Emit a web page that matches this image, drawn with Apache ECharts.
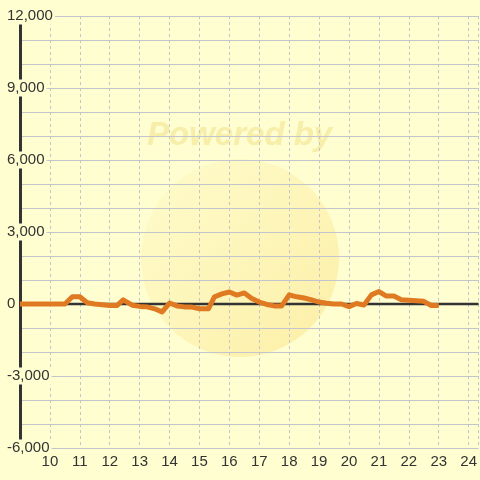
<!DOCTYPE html>
<html>
<head>
<meta charset="utf-8">
<script src="https://cdn.jsdelivr.net/npm/echarts@6/dist/echarts.min.js"></script>
<style>
html,body{margin:0;padding:0;background:#fefed0;}
#c{width:480px;height:480px;}
</style>
</head>
<body>
<div id="c"></div>
<script>
var hours = [9.0,10.5,10.75,11.0,11.25,11.5,12.0,12.25,12.45,12.75,13.0,13.25,13.5,13.75,14.0,14.25,14.5,14.75,15.0,15.3,15.5,15.75,16.0,16.25,16.5,16.75,17.0,17.25,17.5,17.75,18.0,18.25,18.5,18.75,19.0,19.25,19.5,19.75,20.0,20.25,20.5,20.75,21.0,21.25,21.5,21.75,22.0,22.25,22.5,22.75,23.0];
var values = [0,0,300,300,50,0,-60,-60,170,-50,-100,-120,-200,-330,40,-80,-120,-130,-200,-200,300,420,500,370,460,230,80,-20,-80,-80,380,300,250,170,80,30,0,0,-110,20,-40,380,520,330,330,180,160,140,110,-60,-60];
var zeroLine = [[9,0],[24.3333,0]];
var yTicks = [-6000,-3000,0,3000,6000,9000,12000];

var bg = '#fefed0';
var chart = echarts.init(document.getElementById('c'), null, {renderer:'canvas'});
var pts = hours.map(function(h,i){return [h, values[i]];});
chart.setOption({
  backgroundColor: bg,
  animation: false,
  textStyle: {fontFamily: 'Liberation Sans, Arial, sans-serif'},
  graphic: [
    {type:'circle', z:-10, shape:{cx:240, cy:258, r:99},
     style:{fill:{type:'linear',x:0,y:0,x2:1,y2:1,colorStops:[{offset:0,color:'rgba(255,250,200,0.5)'},{offset:1,color:'rgba(250,225,130,0.55)'}]}}},
    {type:'text', z:-9, left:147, top:119,
     style:{text:'Powered by', fill:'rgba(240,222,130,0.5)', font:'italic bold 33px Liberation Sans, Arial, sans-serif'}}
  ],
  grid: {left:20, right:0, top:16, bottom:32, containLabel:false},
  xAxis: {
    type:'value', min:9, max:24.3333, interval:1,
    axisLine:{show:false}, axisTick:{show:false},
    axisLabel:{color:'#333', fontSize:15, margin:6, showMaxLabel:false,
      formatter:function(v){return (v===9)?'':String(v);}},
    splitLine:{show:true, lineStyle:{color:'#c4c4cc', width:1, type:[3,3]}}
  },
  yAxis: {
    type:'value', min:-6000, max:12000, interval:1000,
    axisLine:{show:true, lineStyle:{color:'#333', width:3}},
    axisTick:{show:false},
    axisLabel:{color:'#333', fontSize:15, align:'left', margin:13,
      backgroundColor:bg, padding:[2,2,0,0],
      formatter:function(v){
        if (yTicks.indexOf(v) < 0) return '';
        return v.toLocaleString('en-US');
      }},
    splitLine:{show:true, lineStyle:{color:'#c4c4cc', width:1}}
  },
  series: [
    {type:'line', data:zeroLine, symbol:'none', silent:true,
     lineStyle:{color:'#333', width:2.5}, z:2},
    {type:'line', data:pts, symbol:'none', silent:true,
     lineStyle:{color:'#e07a22', width:5, join:'round'}, z:3}
  ]
});
</script>
</body>
</html>
